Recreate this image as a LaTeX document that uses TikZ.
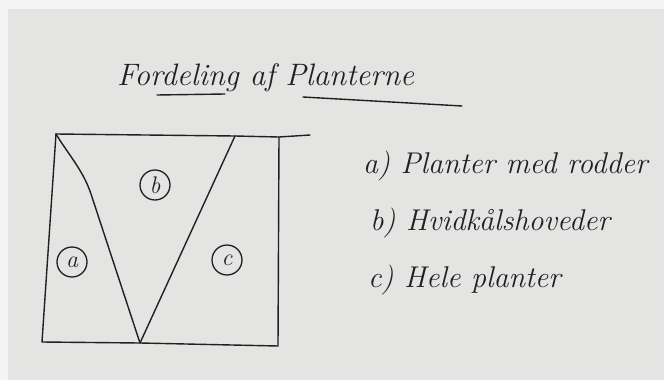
\documentclass[tikz,border=0pt]{standalone}
\usepackage{xcolor}
\usepackage{tikz}
\definecolor{paper}{RGB}{228,228,226}
\definecolor{ink}{RGB}{32,32,36}

\begin{document}
\begin{tikzpicture}[x=1pt, y=-1pt,
    pen/.style={draw=ink, line width=1.4pt, line cap=round, line join=round},
    hand/.style={anchor=base west, inner sep=0pt, text=ink, font=\fontsize{30}{32}\selectfont\itshape},
    tag/.style={circle, draw=ink, line width=1.3pt, inner sep=0pt, minimum size=30pt, text=ink, font=\fontsize{24}{24}\selectfont\itshape}]
    \useasboundingbox (0,0) rectangle (664,380);
    \fill[paper] (0,0) rectangle (664,380);
    \fill[white!60!paper] (0,0) rectangle (664,9);
    \fill[white!60!paper] (0,0) rectangle (8,380);

    % --- Title ---
    \node[hand, font=\fontsize{31}{33}\selectfont\itshape] (title) at (117,85) {Fordeling af Planterne};
    \coordinate (ulA) at (157,95);  \coordinate (ulB) at (225,94);
    \coordinate (ulC) at (303,97);  \coordinate (ulD) at (462,106);
    \draw[pen] (ulA) -- (ulB);
    \draw[pen] (ulC) -- (ulD);

    % --- Field ---
    \coordinate (tl) at (56,134);   \coordinate (vt) at (235,136);
    \coordinate (tr) at (279,137);  \coordinate (te) at (310,135);
    \coordinate (bl) at (42,342);   \coordinate (apex) at (140,343);
    \coordinate (br) at (278,346);  \coordinate (bend) at (91,194);
    \draw[pen] (tl) -- (vt) -- (tr) -- (te);
    \draw[pen] (tl) -- (bl) -- (apex) -- (br) -- (tr);
    \draw[pen] (tl) .. controls (68,154) and (83,170) .. (bend) -- (apex) -- (vt);

    \foreach \n/\x/\y in {a/72/262, b/155/185, c/227/260} {
        \node[tag] (tag\n) at (\x,\y) {\n};
    }

    % --- Legend ---
    \node[hand] (itema) at (363,173) {a) Planter med rodder};
    \node[hand] (itemb) at (370,230) {b) Hvidkålshoveder};
    \node[hand] (itemc) at (368,287) {c) Hele planter};
\end{tikzpicture}
\end{document}
